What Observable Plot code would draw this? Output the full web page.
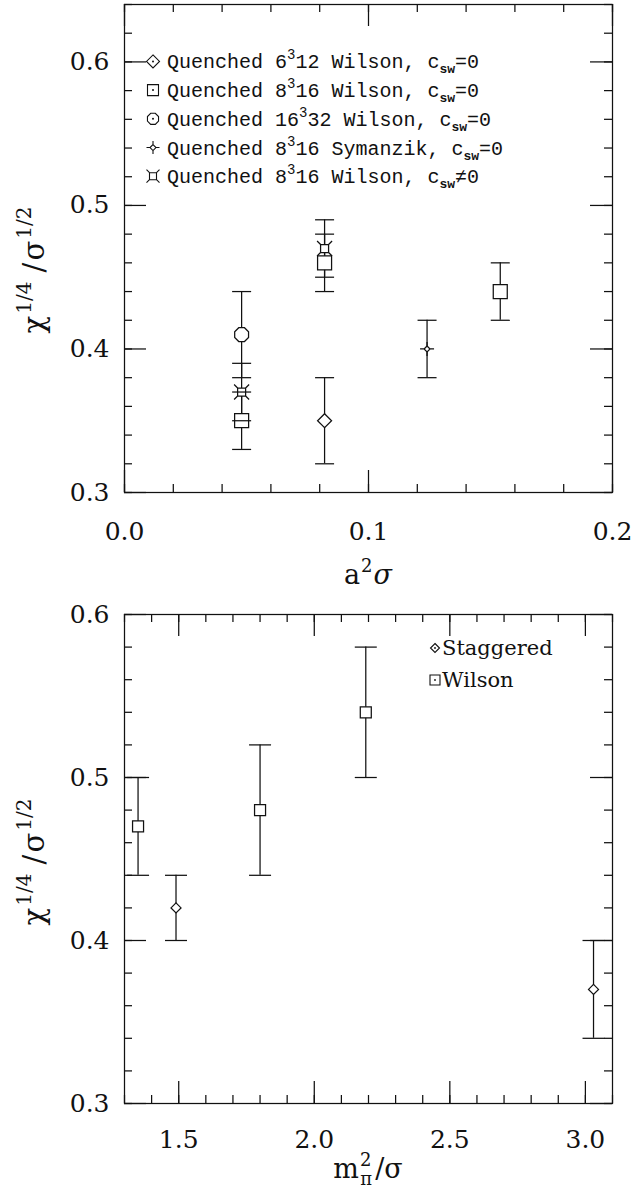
<!DOCTYPE html>
<html><head><meta charset="utf-8">
<script src="https://cdn.jsdelivr.net/npm/d3@7"></script>
<script src="https://cdn.jsdelivr.net/npm/@observablehq/plot@0.6"></script>
<style>
html,body{margin:0;padding:0;background:#fff;}
#chart{width:637px;height:1201px;position:relative;overflow:hidden;}
#chart svg{display:block;}
</style></head><body><div id="chart"></div>
<script>
// ---------- DATA (top panel: chi^{1/4}/sigma^{1/2} vs a^2 sigma) ----------
const w6_x = [0.082];              const w6_y = [0.35];              const w6_err = [0.03];
const w8_x = [0.048, 0.082, 0.154]; const w8_y = [0.35, 0.46, 0.44]; const w8_err = [0.02, 0.02, 0.02];
const w16_x = [0.048];             const w16_y = [0.41];             const w16_err = [0.03];
const sym_x = [0.124];             const sym_y = [0.40];             const sym_err = [0.02];
const csw_x = [0.048, 0.082];      const csw_y = [0.37, 0.47];       const csw_err = [0.02, 0.02];

// ---------- DATA (bottom panel: vs m_pi^2/sigma) ----------
const stag_x = [1.49, 3.03];        const stag_y = [0.42, 0.37];       const stag_lo = [0.40, 0.34];       const stag_hi = [0.44, 0.40];
const wil_x = [1.35, 1.80, 2.19];   const wil_y = [0.47, 0.48, 0.54];  const wil_lo = [0.44, 0.44, 0.50];  const wil_hi = [0.50, 0.52, 0.58];

// ---------- TICKS ----------
const topXTicks = [0.0, 0.1, 0.2];
const topYTicks = [0.3, 0.4, 0.5, 0.6];
const botXTicks = [1.5, 2.0, 2.5, 3.0];
const botYTicks = [0.3, 0.4, 0.5, 0.6];

const topLegend = [
  ["Quenched 6", "3", "12 Wilson, c", "sw", "=0"],
  ["Quenched 8", "3", "16 Wilson, c", "sw", "=0"],
  ["Quenched 16", "3", "32 Wilson, c", "sw", "=0"],
  ["Quenched 8", "3", "16 Symanzik, c", "sw", "=0"],
  ["Quenched 8", "3", "16 Wilson, c", "sw", "\u22600"]
];
const botLegend = ["Staggered", "Wilson"];

// ---------- helpers ----------
const sym = (x, y, e) => x.map((v, i) => ({x: v, y: y[i], lo: y[i] - e[i], hi: y[i] + e[i]}));
const sym2 = (x, y, lo, hi) => x.map((v, i) => ({x: v, y: y[i], lo: lo[i], hi: hi[i]}));

// custom symbols (pixel sizes)
const diamond = h => ({draw(c) { c.moveTo(0, -h); c.lineTo(h, 0); c.lineTo(0, h); c.lineTo(-h, 0); c.closePath(); }});
const square = h => ({draw(c) { c.moveTo(-h, -h); c.lineTo(h, -h); c.lineTo(h, h); c.lineTo(-h, h); c.closePath(); }});
const octagon = r => ({draw(c) { for (let k = 0; k < 8; k++) { const a = Math.PI / 8 + k * Math.PI / 4; const px = r * Math.cos(a), py = r * Math.sin(a); k ? c.lineTo(px, py) : c.moveTo(px, py); } c.closePath(); }});
const symanzik = (h, s) => ({draw(c) { c.moveTo(0, -h); c.lineTo(h, 0); c.lineTo(0, h); c.lineTo(-h, 0); c.closePath();
  c.moveTo(-s, 0); c.lineTo(-h, 0); c.moveTo(h, 0); c.lineTo(s, 0); c.moveTo(0, -s); c.lineTo(0, -h); c.moveTo(0, h); c.lineTo(0, s); }});
const starSquare = (h, s) => ({draw(c) { c.moveTo(-h, -h); c.lineTo(h, -h); c.lineTo(h, h); c.lineTo(-h, h); c.closePath();
  c.moveTo(-h, -h); c.lineTo(-s, -s); c.moveTo(h, -h); c.lineTo(s, -s); c.moveTo(h, h); c.lineTo(s, s); c.moveTo(-h, h); c.lineTo(-s, s); }});
const cap = w => ({draw(c) { c.moveTo(-w, 0); c.lineTo(w, 0); }});

const INK = "#111";
const SW = 1.25;

function frameTicks(xMajor, xMinor, yMajor, yMinor, iw, ih) {
  const big = 22, small = 8;
  return [
    Plot.tickX(xMinor, {x: d => d, insetTop: ih - small, stroke: INK, strokeWidth: SW}),
    Plot.tickX(xMinor, {x: d => d, insetBottom: ih - small, stroke: INK, strokeWidth: SW}),
    Plot.tickX(xMajor, {x: d => d, insetTop: ih - big, stroke: INK, strokeWidth: SW}),
    Plot.tickX(xMajor, {x: d => d, insetBottom: ih - big, stroke: INK, strokeWidth: SW}),
    Plot.tickY(yMinor, {y: d => d, insetRight: iw - small, stroke: INK, strokeWidth: SW}),
    Plot.tickY(yMinor, {y: d => d, insetLeft: iw - small, stroke: INK, strokeWidth: SW}),
    Plot.tickY(yMajor, {y: d => d, insetRight: iw - big, stroke: INK, strokeWidth: SW}),
    Plot.tickY(yMajor, {y: d => d, insetLeft: iw - big, stroke: INK, strokeWidth: SW}),
    Plot.frame({stroke: INK, strokeWidth: SW})
  ];
}

function rich(sel, parts) {
  let cur = 0;
  parts.forEach(p => {
    const target = p.shift || 0;
    const ts = sel.append("tspan").text(p.t).attr("dy", target - cur);
    if (p.size) ts.attr("font-size", p.size);
    if (p.dx) ts.attr("dx", p.dx);
    if (p.italic) ts.attr("font-style", "italic");
    if (p.bold) ts.attr("font-weight", "bold");
    if (p.family) ts.attr("font-family", p.family);
    cur = target;
  });
}

function yTitle(svg, cx, cy) {
  const yl = svg.append("text").attr("transform", `translate(${cx},${cy}) rotate(-90)`)
    .attr("text-anchor", "middle").attr("font-size", 29).attr("fill", "#111");
  rich(yl, [{t: "\u03c7"}, {t: "1/4", shift: -13, size: 20, dx: 2}, {t: " /", shift: 0}, {t: "\u03c3", dx: 2}, {t: "1/2", shift: -13, size: 20, dx: 2}]);
}

const chart = document.getElementById("chart");
const W = 637;
const style = {fontFamily: "DejaVu Serif", fontSize: "25px", color: "#111", background: "white", overflow: "visible"};

// ================= TOP PANEL =================
{
  const mt = 4, mb = 108, ml = 124, mr = 25, H = 600;
  const iw = W - ml - mr, ih = H - mt - mb;
  const d6 = sym(w6_x, w6_y, w6_err), d8 = sym(w8_x, w8_y, w8_err), d16 = sym(w16_x, w16_y, w16_err),
        dS = sym(sym_x, sym_y, sym_err), dC = sym(csw_x, csw_y, csw_err);
  const all = [...d6, ...d8, ...d16, ...dS, ...dC];
  const xMinor = d3.range(0, 11).map(i => i * 0.02);
  const yMinor = d3.range(0, 18).map(i => 0.3 + i * 0.02);
  const capS = cap(9.5);
  const plot = Plot.plot({
    width: W, height: H, marginTop: mt, marginBottom: mb, marginLeft: ml, marginRight: mr,
    style,
    x: {domain: [0, 0.2], label: null},
    y: {domain: [0.3, 0.64], label: null},
    marks: [
      ...frameTicks(topXTicks, xMinor, topYTicks, yMinor, iw, ih),
      Plot.axisX(topXTicks, {tickSize: 0, tickPadding: 30, tickFormat: d3.format(".1f"), label: null, fill: "#111"}),
      Plot.axisY(topYTicks, {tickSize: 0, tickPadding: 15, tickFormat: d3.format(".1f"), label: null, fill: "#111"}),
      Plot.ruleX(all, {x: "x", y1: "lo", y2: "hi", stroke: INK, strokeWidth: SW}),
      Plot.dot(d8, {x: "x", y: "y", symbol: square(7), r: 7, fill: "white", stroke: INK, strokeWidth: SW}),
      Plot.dot(d6, {x: "x", y: "y", symbol: diamond(7), r: 7, fill: "white", stroke: INK, strokeWidth: SW}),
      Plot.dot(d16, {x: "x", y: "y", symbol: octagon(7.5), r: 7, fill: "white", stroke: INK, strokeWidth: SW}),
      Plot.dot(dS, {x: "x", y: "y", symbol: symanzik(3, 7), r: 7, fill: "white", stroke: INK, strokeWidth: SW}),
      Plot.dot(dC, {x: "x", y: "y", symbol: starSquare(4, 7.5), r: 7, fill: "white", stroke: INK, strokeWidth: SW}),
      Plot.dot(all, {x: "x", y: "lo", symbol: capS, r: 7, fill: "none", stroke: INK, strokeWidth: SW}),
      Plot.dot(all, {x: "x", y: "hi", symbol: capS, r: 7, fill: "none", stroke: INK, strokeWidth: SW})
    ]
  });
  chart.appendChild(plot);
  const svg = d3.select(plot);
  const ys = plot.scale("y");
  // legend
  const legSyms = [diamond(6.5), square(5.5), octagon(6), symanzik(3, 6.5), starSquare(3.5, 6.5)];
  const lg = svg.append("g").attr("fill", "#111").attr("text-anchor", "start");
  topLegend.forEach((parts, i) => {
    const cy = ys.apply(0.6 - i * 0.02);
    const cx = ml + 29;
    lg.append("path").attr("d", d3.symbol(legSyms[i])()).attr("transform", `translate(${cx},${cy})`)
      .attr("fill", "white").attr("stroke", INK).attr("stroke-width", 1.1);
    if (i < 3) lg.append("circle").attr("cx", cx).attr("cy", cy).attr("r", 1).attr("fill", INK);
    const t = lg.append("text").attr("x", cx + 14).attr("y", cy + 7).attr("text-anchor", "start")
      .attr("font-family", "Liberation Mono").attr("font-size", 20);
    rich(t, [
      {t: parts[0]}, {t: parts[1], shift: -9, size: 14}, {t: parts[2]},
      {t: parts[3], shift: 5, size: 13, bold: true}, {t: parts[4]}
    ]);
  });
  yTitle(svg, 44, 270);
  const xl = svg.append("text").attr("x", ml + iw / 2).attr("y", 584)
    .attr("text-anchor", "middle").attr("font-size", 27).attr("fill", "#111");
  rich(xl, [{t: "a"}, {t: "2", shift: -12, size: 18, dx: 1}, {t: "\u03c3", shift: 0, italic: true, dx: 1}]);
}

// ================= BOTTOM PANEL =================
{
  const mt = 14, mb = 98, ml = 124, mr = 25, H = 601;
  const iw = W - ml - mr, ih = H - mt - mb;
  const dSt = sym2(stag_x, stag_y, stag_lo, stag_hi), dW = sym2(wil_x, wil_y, wil_lo, wil_hi);
  const all = [...dSt, ...dW];
  const xMinor = d3.range(0, 19).map(i => 1.3 + i * 0.1);
  const yMinor = d3.range(0, 16).map(i => 0.3 + i * 0.02);
  const capS = cap(11);
  const plot = Plot.plot({
    width: W, height: H, marginTop: mt, marginBottom: mb, marginLeft: ml, marginRight: mr,
    style,
    x: {domain: [1.3, 3.1], label: null},
    y: {domain: [0.3, 0.6], label: null},
    marks: [
      ...frameTicks(botXTicks, xMinor, botYTicks, yMinor, iw, ih),
      Plot.axisX(botXTicks, {tickSize: 0, tickPadding: 27, tickFormat: d3.format(".1f"), label: null, fill: "#111"}),
      Plot.axisY(botYTicks, {tickSize: 0, tickPadding: 15, tickFormat: d3.format(".1f"), label: null, fill: "#111"}),
      Plot.ruleX(all, {x: "x", y1: "lo", y2: "hi", stroke: INK, strokeWidth: SW}),
      Plot.dot(all, {x: "x", y: "lo", symbol: capS, r: 7, fill: "none", stroke: INK, strokeWidth: SW}),
      Plot.dot(all, {x: "x", y: "hi", symbol: capS, r: 7, fill: "none", stroke: INK, strokeWidth: SW}),
      Plot.dot(dW, {x: "x", y: "y", symbol: square(5.5), r: 6, fill: "white", stroke: INK, strokeWidth: SW}),
      Plot.dot(dSt, {x: "x", y: "y", symbol: diamond(5), r: 6, fill: "white", stroke: INK, strokeWidth: SW})
    ]
  });
  chart.appendChild(plot);
  const svg = d3.select(plot);
  // legend
  const legSyms = [diamond(4.5), square(5)];
  const lg = svg.append("g").attr("fill", "#111").attr("text-anchor", "start");
  botLegend.forEach((name, i) => {
    const cx = 435, cy = 48 + i * 32;
    lg.append("path").attr("d", d3.symbol(legSyms[i])()).attr("transform", `translate(${cx},${cy})`)
      .attr("fill", "white").attr("stroke", INK).attr("stroke-width", 1.1);
    lg.append("circle").attr("cx", cx).attr("cy", cy).attr("r", 0.9).attr("fill", INK);
    lg.append("text").attr("x", cx + 7).attr("y", cy + 7).attr("text-anchor", "start").attr("font-size", 21).text(name);
  });
  yTitle(svg, 44, 262);
  const xl = svg.append("text").attr("x", ml + iw / 2).attr("y", 578)
    .attr("text-anchor", "middle").attr("font-size", 27).attr("fill", "#111");
  rich(xl, [{t: "m"}, {t: "2", shift: -12, size: 18, dx: 1}, {t: "\u03c0", shift: 7, size: 18, dx: -11}, {t: "/\u03c3", shift: 0, dx: 3}]);
}
</script></body></html>
